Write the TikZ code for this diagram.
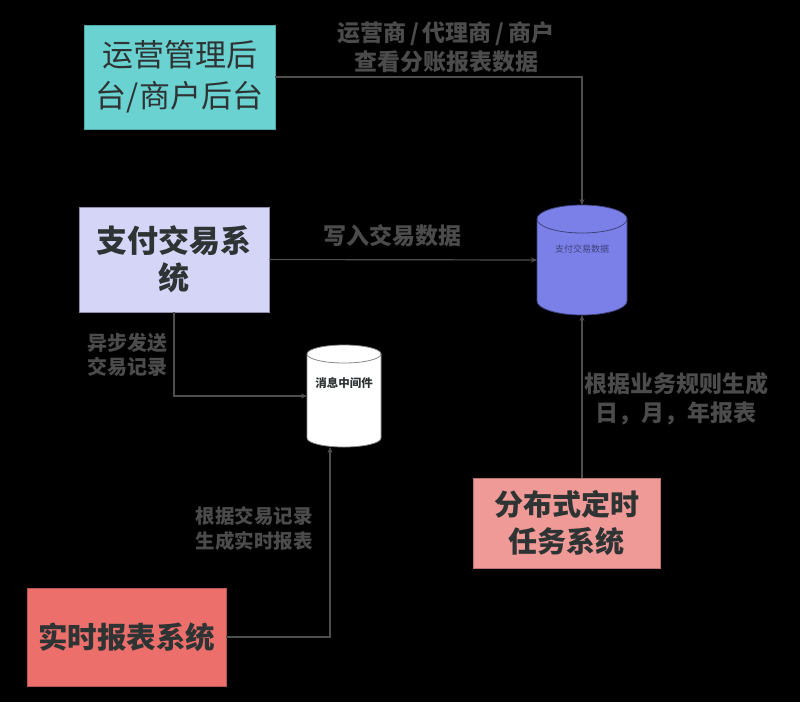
\documentclass[tikz,border=0pt]{standalone}
\usepackage{fontspec}
\setmainfont{Noto Sans CJK SC}
\usetikzlibrary{arrows.meta,positioning}
\definecolor{opsfill}{HTML}{6AD3D2}
\definecolor{opsline}{HTML}{4FA9A8}
\definecolor{payfill}{HTML}{D5D5F7}
\definecolor{payline}{HTML}{8E8EA8}
\definecolor{rptfill}{HTML}{EC6F6C}
\definecolor{rptline}{HTML}{B85452}
\definecolor{jobfill}{HTML}{EF9A97}
\definecolor{jobline}{HTML}{B87472}
\definecolor{dbfill}{HTML}{7B80E8}
\definecolor{dbline}{HTML}{3E427C}
\definecolor{mqline}{HTML}{8A8A8A}
\definecolor{inkdark}{HTML}{2E3333}
\definecolor{notegray}{HTML}{4B4B4B}
\definecolor{wiregray}{HTML}{4E4E4E}
\begin{document}
\begin{tikzpicture}[x=1pt, y=-1pt,
    box/.style={draw, line width=0.8pt, inner sep=0pt, align=center, text=inkdark},
    drum/.style={inner sep=0pt, outer sep=0pt},
    note/.style={text=notegray, align=center},
    wire/.style={draw=wiregray, line width=1.2pt, -{Stealth[length=6pt, width=5pt]}}]
    \fill[black] (0,0) rectangle (800,702);

    \node[box, fill=opsfill, draw=opsline, minimum width=191pt, minimum height=104pt,
        font=\fontsize{31}{41}\selectfont] (ops) at (179.5,77) {运营管理后\\台/商户后台};
    \node[box, fill=payfill, draw=payline, minimum width=190pt, minimum height=105pt,
        font=\bfseries\fontsize{31}{37}\selectfont] (pay) at (174,259.5) {支付交易系\\统};
    \node[box, fill=rptfill, draw=rptline, minimum width=199pt, minimum height=98pt,
        font=\bfseries\fontsize{29.5}{36}\selectfont] (rpt) at (126.5,637) {实时报表系统};
    \node[box, fill=jobfill, draw=jobline, minimum width=187pt, minimum height=90pt,
        font=\bfseries\fontsize{29}{37}\selectfont] (job) at (566.5,523) {分布式定时\\任务系统};

    \node[drum, minimum width=90pt, minimum height=110pt] (db) at (582,260) {};
    \node[drum, minimum width=74pt, minimum height=102pt] (mq) at (344,396) {};
    \foreach \n/\rx/\ry/\h/\f/\d in {db/45/14/82/dbfill/dbline, mq/37/9/84/white/mqline}
    {
        \path[fill=\f, draw=\d, line width=0.8pt] (\n.north west) ++(0,\ry) coordinate (\n top)
            -- ++(0,\h) arc[start angle=180, end angle=0, x radius=\rx, y radius=\ry]
            -- ++(0,-\h) arc[start angle=0, end angle=-180, x radius=\rx, y radius=\ry] -- cycle;
        \draw[\d, line width=0.8pt] (\n top) arc[start angle=180, end angle=0, x radius=\rx, y radius=\ry];
    }
    \node[text=dbline, font=\fontsize{9}{11}\selectfont] (dbtext) at ([yshift=11pt]db.center) {支付交易数据};
    \node[text=inkdark, font=\bfseries\fontsize{11.5}{13}\selectfont] (mqtext) at ([yshift=13pt]mq.center) {消息中间件};

    \node[note, font=\bfseries\fontsize{23}{29}\selectfont] (n1) at (446,47.5) {运营商\kern4pt/\kern4pt代理商\kern4pt/\kern4pt商户\\查看分账报表数据};
    \node[note, font=\bfseries\fontsize{23}{29}\selectfont] (n2) at (392,236) {写入交易数据};
    \node[note, font=\bfseries\fontsize{20}{24}\selectfont] (n3) at (127,355) {异步发送\\交易记录};
    \node[note, font=\bfseries\fontsize{19.5}{25}\selectfont] (n4) at (254,528.5) {根据交易记录\\生成实时报表};
    \node[note, font=\bfseries\fontsize{23}{29}\selectfont] (n5) at (676,398.5) {根据业务规则生成\\日，月，年报表};

    \draw[wire] (ops.east) -| (db.north);
    \draw[wire] (pay.east) -- (db.west);
    \draw[wire] (pay.south) |- (mq.west);
    \draw[wire] (rpt.east) -| ([xshift=-14pt]mq.south);
    \draw[wire] (db.south |- job.north) -- (db.south);
\end{tikzpicture}
\end{document}
